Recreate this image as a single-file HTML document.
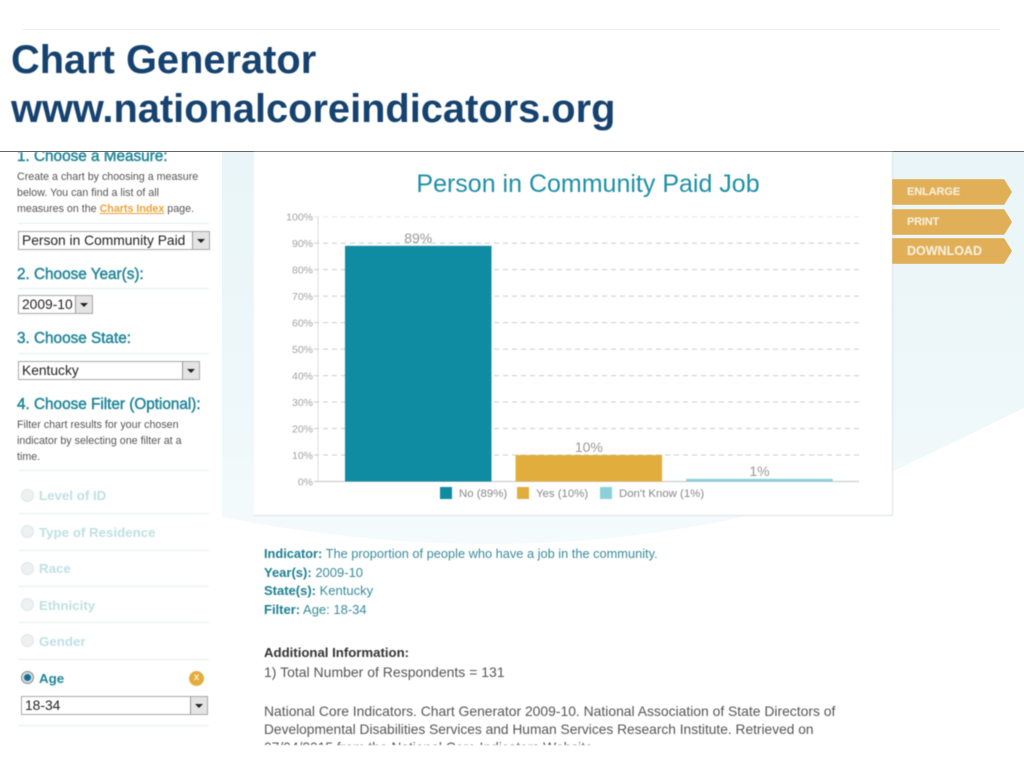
<!DOCTYPE html>
<html lang="en">
<head>
<meta charset="utf-8">
<title>Chart Generator</title>
<style>
html,body{margin:0;padding:0;background:#fff;}
#slide{position:relative;width:1024px;height:768px;overflow:hidden;background:#fff;font-family:"Liberation Sans",sans-serif;}
.abs{position:absolute;white-space:nowrap;}
.heading{position:absolute;left:11px;font-size:39.8px;font-weight:bold;color:#16426f;line-height:44px;white-space:nowrap;}
.soft{filter:blur(0.45px);}
.h2{position:absolute;left:17px;font-size:15.3px;color:#1f8598;white-space:nowrap;-webkit-text-stroke:0.45px #1f8598;}
.para{position:absolute;left:17px;font-size:10.7px;line-height:15.8px;color:#555;white-space:nowrap;}
.rule{position:absolute;left:18px;width:191px;height:1px;background:#e4eeee;}
.select{position:absolute;height:17px;background:#fff;border:1px solid #a8a8a8;font-size:13.8px;line-height:17px;color:#222;box-sizing:content-box;}
.select span{position:absolute;left:3px;top:0;white-space:nowrap;}
.arrow{position:absolute;right:0;top:0;width:16px;height:17px;background:#e4e4e4;border-left:1px solid #999;}
.arrow:after{content:"";position:absolute;left:4px;top:7px;border-left:4px solid transparent;border-right:4px solid transparent;border-top:4px solid #222;}
.radio{position:absolute;left:21px;width:11px;height:11px;border-radius:50%;background:#eef1f1;border:1px solid #dfe5e5;}
.opt{position:absolute;left:39px;font-size:13.3px;font-weight:bold;color:#c0e0e3;white-space:nowrap;}
.tab{position:absolute;left:892px;width:120px;height:26px;background:#e0af58;clip-path:polygon(0 0,112px 0,120px 13px,112px 26px,0 26px);color:#fbf3e2;font-weight:bold;line-height:26px;text-indent:15px;}
.info{position:absolute;left:264px;font-size:12.8px;color:#3a8b9b;white-space:nowrap;line-height:18px;}
.info b{color:#1d7f90;}
.note{position:absolute;left:264px;font-size:13.8px;color:#555;white-space:nowrap;line-height:18px;}
</style>
</head>
<body>
<div id="slide">
  <div class="abs" style="left:23px;top:29px;width:977px;height:1px;background:#ececec"></div>
  <div class="heading soft" style="top:38px">Chart Generator</div>
  <div class="heading soft" style="top:87px">www.nationalcoreindicators.org</div>

  <svg class="abs" style="left:0;top:0" width="1024" height="768">
    <defs>
      <linearGradient id="bgfade" x1="0" y1="0" x2="0" y2="1">
        <stop offset="0" stop-color="#e9f5f8"/>
        <stop offset="0.7" stop-color="#eff8fa"/>
        <stop offset="1" stop-color="#f5fbfc"/>
      </linearGradient>
    </defs>
    <path d="M222 152 H1024 V408 L892 472 Q800 505 752 515 Q500 572 222 517 Z" fill="url(#bgfade)"/>
  </svg>
  <div class="abs" style="left:0;top:151px;width:1024px;height:1px;background:#666"></div>

  <div class="abs soft" style="left:0;top:0;width:250px;height:745px;overflow:hidden">
    <div class="abs" style="left:0;top:152px;width:250px;height:14px;overflow:hidden">
      <div class="h2" style="top:-4px">1. Choose a Measure:</div>
    </div>
    <div class="para" style="top:170px">Create a chart by choosing a measure<br>below. You can find a list of all<br>measures on the <b style="color:#e8a33a;text-decoration:underline">Charts Index</b> page.</div>
    <div class="rule" style="top:223px"></div>
    <div class="select" style="left:18px;top:231px;width:190px"><span>Person in Community Paid</span><div class="arrow"></div></div>

    <div class="h2" style="top:266px">2. Choose Year(s):</div>
    <div class="rule" style="top:288px"></div>
    <div class="select" style="left:18px;top:295px;width:73px"><span>2009-10</span><div class="arrow"></div></div>

    <div class="h2" style="top:330px">3. Choose State:</div>
    <div class="rule" style="top:353px"></div>
    <div class="select" style="left:18px;top:361px;width:180px"><span>Kentucky</span><div class="arrow"></div></div>

    <div class="h2" style="top:396px">4. Choose Filter (Optional):</div>
    <div class="para" style="top:418px">Filter chart results for your chosen<br>indicator by selecting one filter at a<br>time.</div>
    <div class="rule" style="top:470px"></div>

    <div class="radio" style="top:489px"></div>
    <div class="opt" style="top:488px">Level of ID</div>
    <div class="rule" style="top:513px"></div>
    <div class="radio" style="top:525px"></div>
    <div class="opt" style="top:525px">Type of Residence</div>
    <div class="rule" style="top:550px"></div>
    <div class="radio" style="top:562px"></div>
    <div class="opt" style="top:561px">Race</div>
    <div class="rule" style="top:586px"></div>
    <div class="radio" style="top:598px"></div>
    <div class="opt" style="top:598px">Ethnicity</div>
    <div class="rule" style="top:622px"></div>
    <div class="radio" style="top:634px"></div>
    <div class="opt" style="top:634px">Gender</div>
    <div class="rule" style="top:659px"></div>
    <div class="radio" style="top:671px;background:radial-gradient(circle,#0f6f98 0 3px,#d8dfe2 4px);border-color:#888"></div>
    <div class="opt" style="top:671px;color:#1f8598">Age</div>
    <div class="abs" style="left:189px;top:671px;width:15px;height:15px;border-radius:50%;background:#e4ac3e;color:#fbeecf;font-size:10px;font-weight:bold;line-height:14px;text-align:center">x</div>
    <div class="select" style="left:21px;top:696px;width:185px"><span>18-34</span><div class="arrow"></div></div>
    <div class="rule" style="top:725px"></div>
  </div>

  <svg id="chart" class="abs soft" style="left:254px;top:152px;background:#fff;border-right:1px solid #dbe2e5;border-bottom:1px solid #dbe2e5" width="638" height="363" viewBox="254 152 638 363"></svg>

  <div class="tab soft" style="top:179px;font-size:11px;letter-spacing:-0.1px">ENLARGE</div>
  <div class="tab soft" style="top:209px;font-size:11px;letter-spacing:-0.2px">PRINT</div>
  <div class="tab soft" style="top:238px;font-size:12.5px">DOWNLOAD</div>

  <div class="abs soft" style="left:0;top:540px;width:1024px;height:205px;overflow:hidden">
    <div class="info" style="top:5px"><b>Indicator:</b> The proportion of people who have a job in the community.</div>
    <div class="info" style="top:24px;font-size:13px"><b>Year(s):</b> 2009-10</div>
    <div class="info" style="top:42px;font-size:13px"><b>State(s):</b> Kentucky</div>
    <div class="info" style="top:61px;font-size:13px"><b>Filter:</b> Age: 18-34</div>
    <div class="note" style="top:104px;font-size:13.2px;font-weight:bold;color:#333">Additional Information:</div>
    <div class="note" style="top:123px;font-size:14px">1) Total Number of Respondents = 131</div>
    <div class="note" style="top:162px;font-size:13.9px">National Core Indicators. Chart Generator 2009-10. National Association of State Directors of</div>
    <div class="note" style="top:181px;font-size:13.75px">Developmental Disabilities Services and Human Services Research Institute. Retrieved on</div>
    <div class="note" style="top:199px">07/04/2015 from the National Core Indicators Website.</div>
  </div>
</div>
<script>
const categories = ['No', 'Yes', "Don't Know"];
const seriesValues = [89, 10, 1];
const valueLabels = ['89%', '10%', '1%'];
const legendLabels = ['No (89%)', 'Yes (10%)', "Don't Know (1%)"];
const tickValues = [0, 10, 20, 30, 40, 50, 60, 70, 80, 90, 100];
const tickLabels = ['0%', '10%', '20%', '30%', '40%', '50%', '60%', '70%', '80%', '90%', '100%'];
const barColors = ['#0f8ba2', '#e1ae3e', '#8bd0da'];

const NS = 'http://www.w3.org/2000/svg';
const svg = document.getElementById('chart');
const yScale = v => 481.5 - v * 2.648;
const xScale = i => 345 + i * 170.6;
const barWidth = 146.5;
const plotLeft = 318, plotRight = 859;

function make(tag, attrs, text) {
  const el = document.createElementNS(NS, tag);
  for (const k in attrs) el.setAttribute(k, attrs[k]);
  if (text !== undefined) el.textContent = text;
  svg.appendChild(el);
  return el;
}

const title = make('text', {x: 588, y: 192, 'text-anchor': 'middle', 'font-size': 25, fill: '#1f8fa5', 'font-family': '"Liberation Sans",sans-serif'}, 'Person in Community Paid Job');



const yAxis = make('line', {x1: plotLeft, x2: plotLeft, y1: yScale(100), y2: yScale(0), stroke: '#dcdcdc', 'stroke-width': 1});



tickValues.forEach((t, i) => {
  const y = yScale(t);
  const grid = make('line', {x1: plotLeft - 4, x2: plotRight, y1: y, y2: y, stroke: t === 0 ? '#c4c4c4' : (t === 100 ? '#e6e6e6' : '#cbcbcb'), 'stroke-width': 1, 'stroke-dasharray': t === 0 ? 'none' : '5 4'});
  
  
  const label = make('text', {x: plotLeft - 5, y: y + 4, 'text-anchor': 'end', 'font-size': 10.5, fill: '#a2a2a2', 'font-family': '"Liberation Sans",sans-serif'}, tickLabels[i]);
  
  
});

categories.forEach((c, i) => {
  const v = seriesValues[i];
  const bar = make('rect', {x: xScale(i), y: yScale(v), width: barWidth, height: yScale(0) - yScale(v), fill: barColors[i]});
  
  
  const label = make('text', {x: xScale(i) + barWidth / 2, y: yScale(v) - 3, 'text-anchor': 'middle', 'font-size': 14, fill: '#999', 'font-family': '"Liberation Sans",sans-serif'}, valueLabels[i]);
  
  
});

const legendSwatchX = [440, 517, 600];
legendLabels.forEach((l, i) => {
  const swatch = make('rect', {x: legendSwatchX[i], y: 487, width: 12, height: 12, fill: barColors[i]});
  
  
  const text = make('text', {x: legendSwatchX[i] + 19, y: 497, 'font-size': 11.4, fill: '#888', 'font-family': '"Liberation Sans",sans-serif'}, l);
  
  
});
</script>
</body>
</html>
